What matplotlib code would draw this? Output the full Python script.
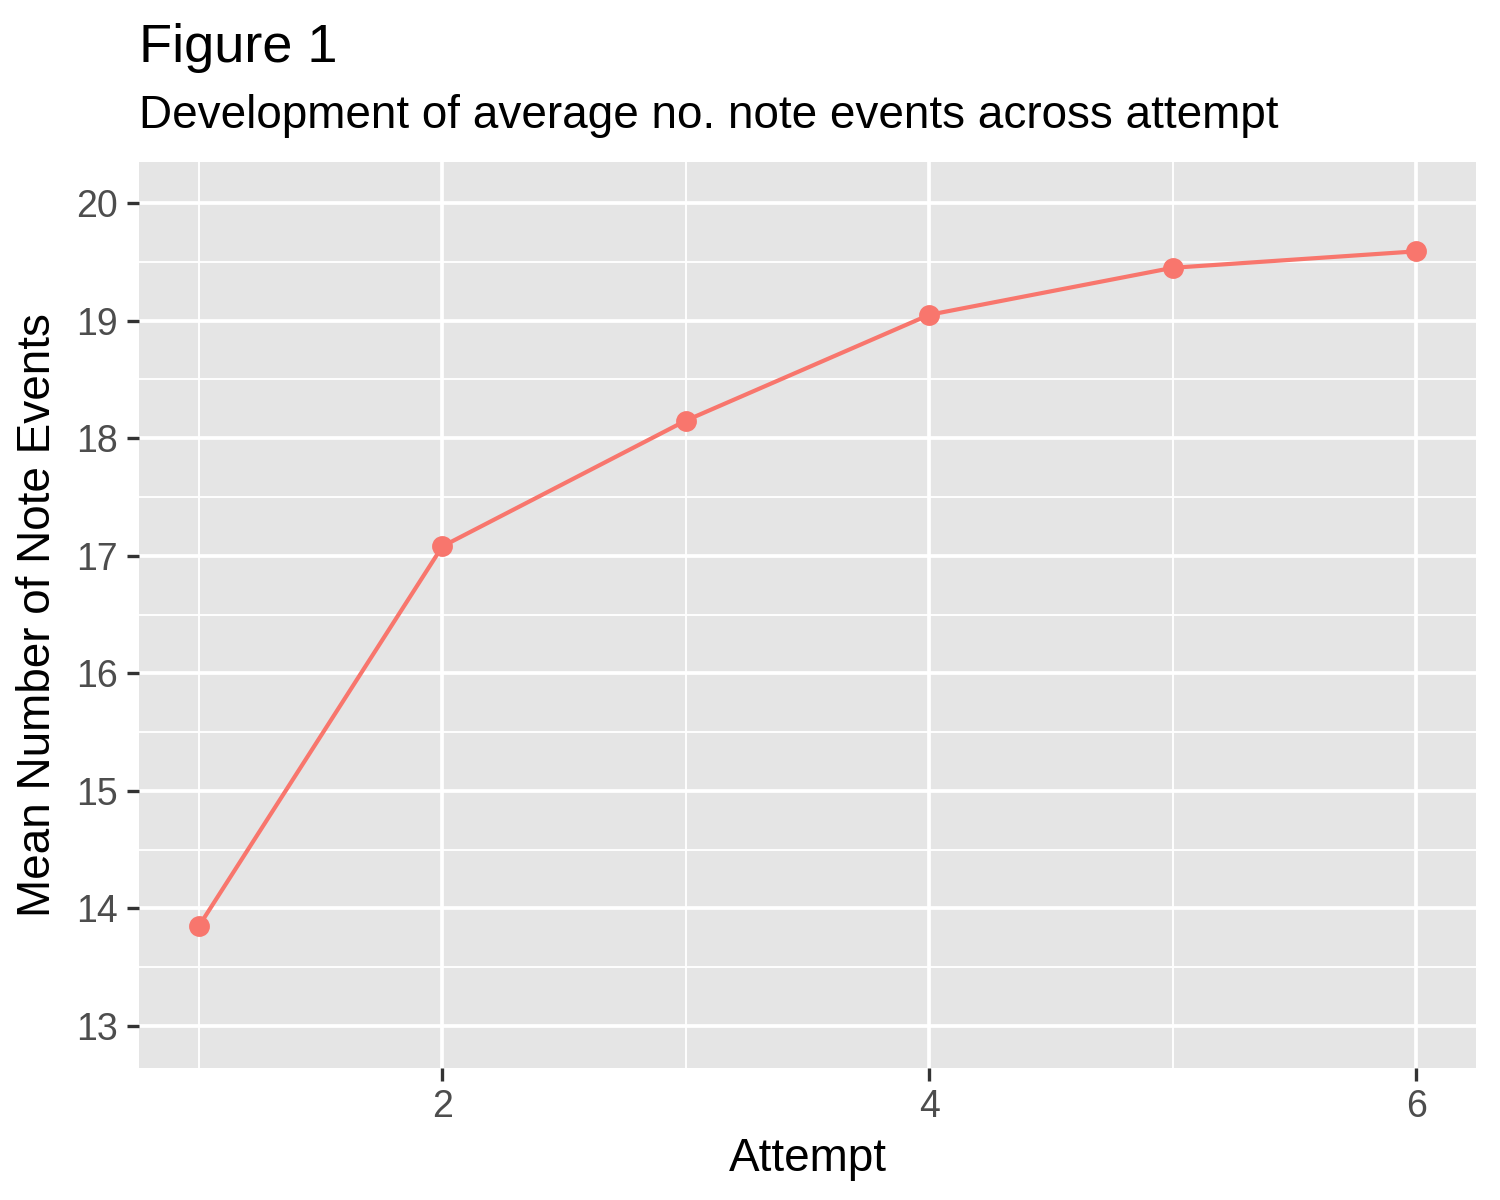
import matplotlib.pyplot as plt
from matplotlib.ticker import MultipleLocator

plt.rcParams['font.family'] = ['Liberation Sans', 'DejaVu Sans']

attempt = [1, 2, 3, 4, 5, 6]
mean_notes = [13.85, 17.08, 18.15, 19.05, 19.45, 19.59]

fig = plt.figure(figsize=(5, 4), dpi=300)
ax = fig.add_axes([139/1500, 1-1068/1200, (1476-139)/1500, (1068-162)/1200])
ax.set_facecolor('#e5e5e5')
for s in ax.spines.values():
    s.set_visible(False)

ax.set_xlim(0.754, 6.246)
ax.set_ylim(12.643, 20.35)
ax.xaxis.set_major_locator(MultipleLocator(2))
ax.xaxis.set_minor_locator(MultipleLocator(1))
ax.yaxis.set_major_locator(MultipleLocator(1))
ax.yaxis.set_minor_locator(MultipleLocator(0.5))
ax.grid(which='major', color='white', lw=0.9)
ax.grid(which='minor', color='white', lw=0.45)
ax.set_axisbelow(True)
ax.tick_params(which='major', length=3, width=0.8, color='#333333', labelsize=9, labelcolor='#4d4d4d', pad=2)
ax.tick_params(which='minor', length=0)

ax.plot(attempt, mean_notes, color='#f8766d', lw=1.0, marker='o', ms=4, zorder=3)

ax.set_xlabel('Attempt', fontsize=11, labelpad=3)
ax.set_ylabel('Mean Number of Note Events', fontsize=11, labelpad=4)
fig.text(139/1500, 1-48/1200, 'Figure 1', fontsize=13, va='center')
fig.text(139/1500, 1-116/1200, 'Development of average no. note events across attempt', fontsize=11, va='center')

fig.savefig('out.png', dpi=300)
